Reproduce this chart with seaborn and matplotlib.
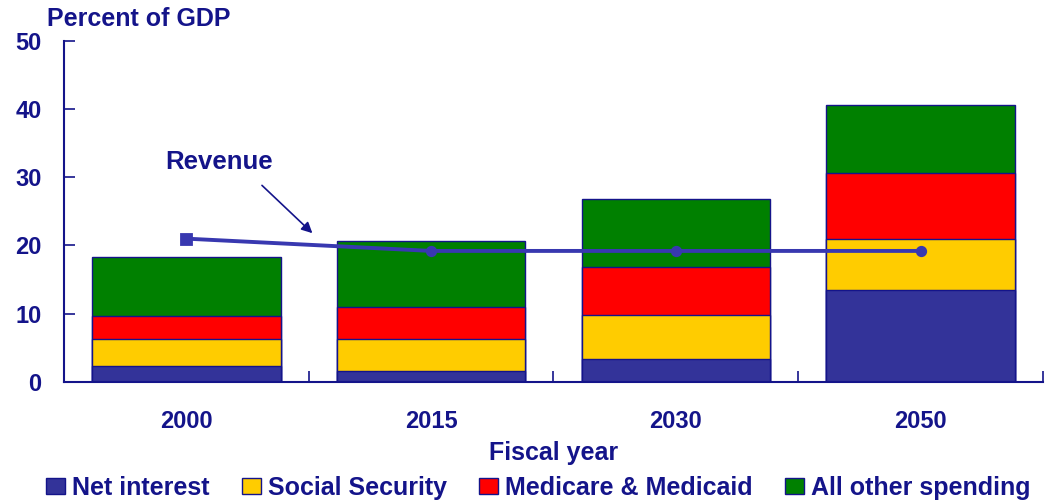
import matplotlib
matplotlib.use("Agg")
import matplotlib.pyplot as plt
import seaborn as sns
import pandas as pd
import numpy as np
from matplotlib.patches import Patch

# values (percent of GDP)
years = ["2000", "2015", "2030", "2050"]
net_interest = [2.3, 1.65, 3.4, 13.5]
social_security = [3.95, 4.65, 6.4, 7.4]
medicare_medicaid = [3.35, 4.7, 7.1, 9.75]
all_other = [8.75, 9.7, 9.9, 9.9]
revenue = [21.0, 19.2, 19.2, 19.2]

series_names = ["Net interest", "Social Security", "Medicare & Medicaid", "All other spending"]
series_colors = ["#333399", "#ffcc00", "#ff0000", "#008000"]
navy = "#14148a"

sns.set_style("white")
plt.rcParams["font.family"] = ["Liberation Sans", "DejaVu Sans"]
plt.rcParams["font.weight"] = "bold"

df = pd.DataFrame({
    "year": years,
    "Net interest": net_interest,
    "Social Security": social_security,
    "Medicare & Medicaid": medicare_medicaid,
    "All other spending": all_other,
})
# cumulative tops, drawn from tallest layer down so each layer overdraws the one above
cum = df[series_names].cumsum(axis=1)

fig = plt.figure(figsize=(10.57, 5.04), dpi=100)
ax = fig.add_axes([0.0605, 0.242, 0.9263, 0.6774])

for name, col in reversed(list(zip(series_names, series_colors))):
    sns.barplot(x=df["year"], y=cum[name], color=col, width=0.77,
                edgecolor=navy, linewidth=1.0, saturation=1, ax=ax)

line_col = "#3838b0"
sns.pointplot(x=years, y=revenue, color=line_col, markers="o",
              linestyles="-", ax=ax, markersize=6, linewidth=2.8)
# first revenue point is drawn as a square in the original
sns.pointplot(x=years[:1], y=revenue[:1], order=years, color=line_col, markers="s",
              linestyles="none", ax=ax, markersize=7)

ax.set_ylim(0, 50)
ax.set_xlim(-0.5, 3.5)
ax.set_yticks([0, 10, 20, 30, 40, 50])
ax.set_xticks(np.arange(0.5, 3.6, 1.0), minor=True)
ax.tick_params(axis="x", which="major", bottom=False, length=0, pad=20,
               labelsize=17, labelcolor=navy)
ax.tick_params(axis="x", which="minor", bottom=True, length=8, direction="in",
               color=navy, width=1.2)
ax.tick_params(axis="y", left=True, length=8, direction="in", color=navy, width=1.2,
               pad=16, labelsize=17, labelcolor=navy)
for lab in ax.get_yticklabels() + ax.get_xticklabels():
    lab.set_fontweight("bold")

for s in ["top", "right"]:
    ax.spines[s].set_visible(False)
for s in ["left", "bottom"]:
    ax.spines[s].set_color(navy)
    ax.spines[s].set_linewidth(1.5)

ax.set_xlabel("Fiscal year", fontsize=18, fontweight="bold", color=navy, labelpad=6)
ax.set_ylabel("")
fig.text(0.044, 0.962, "Percent of GDP", fontsize=18, fontweight="bold",
         color=navy, ha="left", va="center")

ax.text(0.133, 32.2, "Revenue", fontsize=18.5, fontweight="bold", color=navy,
        ha="center", va="center")
ax.annotate("", xy=(0.515, 21.8), xytext=(0.309, 28.8),
            arrowprops=dict(arrowstyle="-|>", color=navy, lw=1.2,
                            mutation_scale=16, shrinkA=0, shrinkB=0))

handles = [Patch(facecolor=c, edgecolor=navy, linewidth=1.0) for c in series_colors]
fig.legend(handles, series_names, loc="center", bbox_to_anchor=(0.5095, 0.032),
           ncol=4, frameon=False, handlelength=0.75, handleheight=0.55,
           handletextpad=0.28, columnspacing=1.3, labelcolor=navy,
           borderpad=0, prop={"weight": "bold", "size": 18})

fig.savefig("out.png", dpi=100)
